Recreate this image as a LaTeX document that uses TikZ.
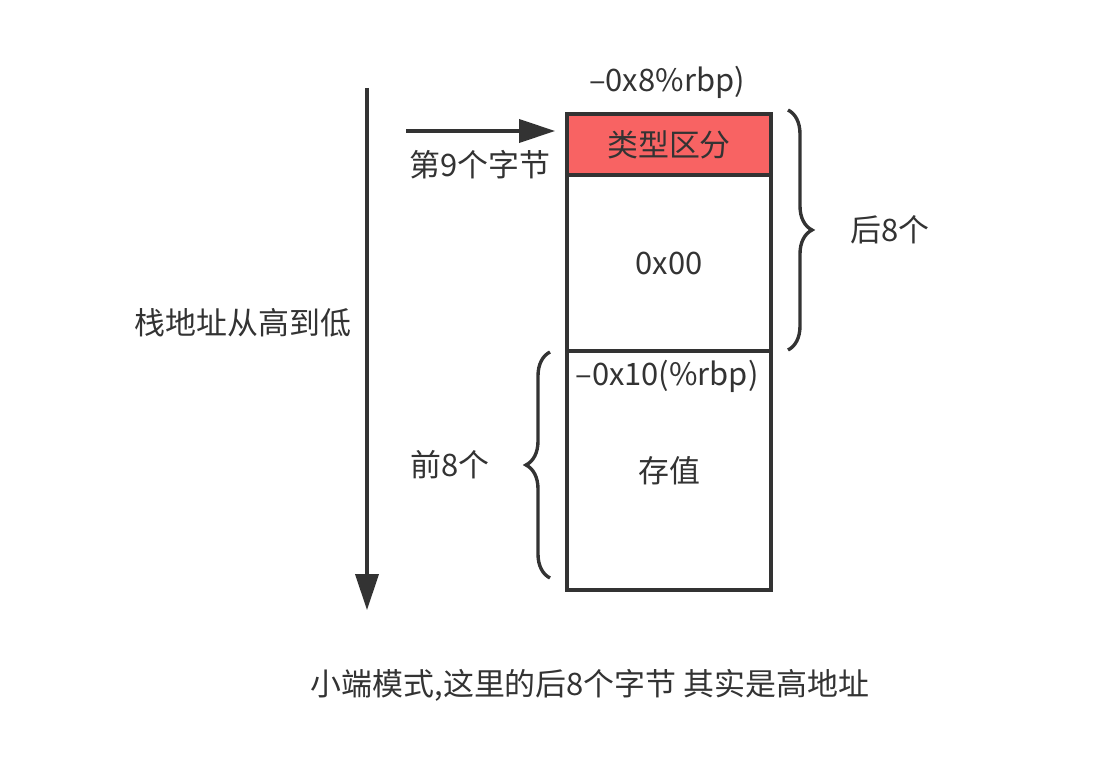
\documentclass[tikz,border=0pt]{standalone}
\usepackage{fontspec}
\setmainfont{Noto Sans CJK SC}
\usepackage{xcolor}
\usepackage{tikz}
\usetikzlibrary{arrows.meta,positioning,calc,decorations.pathreplacing}
\definecolor{inkgray}{RGB}{51,51,51}
\definecolor{typered}{RGB}{248,99,99}

\begin{document}
\begin{tikzpicture}[
  every node/.style={font=\fontsize{22}{26}\selectfont, text=inkgray},
  cell/.style={draw=inkgray, line width=2.6pt, minimum width=5.1cm,
               inner sep=0pt, outer sep=0pt, fill=white},
  arrow/.style={-{Triangle[length=0.9cm, width=0.58cm]}, line width=2.4pt,
                draw=inkgray},
  bracket/.style={decorate, decoration={brace, amplitude=0.6cm},
                  line width=2.4pt, draw=inkgray},
]
\useasboundingbox (0,0) rectangle (27.85,19.1);

%% ── Stack cells ───────────────────────────────────────────────────────────
\node[cell, fill=typered, minimum height=1.525cm] (kind) at (16.725, 15.4875) {类型区分};
\node[cell, minimum height=4.4cm, below=0pt of kind] (zero) {0x00};
\node[cell, minimum height=5.975cm, below=0pt of zero] (value) {存值};

%% ── Offsets ───────────────────────────────────────────────────────────────
\node (off8) at (16.675, 17.05) {–0x8\%rbp)};
\node (off10) at (16.675, 9.7) {–0x10(\%rbp)};

%% ── Address direction ─────────────────────────────────────────────────────
\coordinate (hi) at (9.175, 16.9);
\coordinate (lo) at (9.175, 3.85);
\draw[arrow] (hi) -- (lo);
\node (dir) at (6.075, 11.025) {栈地址从高到低};

%% ── 9th byte pointer ──────────────────────────────────────────────────────
\coordinate (from) at (10.15, 15.825);
\coordinate (to) at ([xshift=-0.3cm]kind.west |- from);
\draw[arrow] (from) -- (to);
\node (ninth) at (12.0, 14.975) {第9个字节};

%% ── Braces ────────────────────────────────────────────────────────────────
\coordinate (rtop) at (19.7, 16.35);
\coordinate (rbot) at (19.7, 10.35);
\draw[bracket] (rtop) -- (rbot);
\node (last8) at (22.25, 13.35) {后8个};

\coordinate (lbot) at (13.75, 4.65);
\coordinate (ltop) at (13.75, 10.3);
\draw[bracket] (lbot) -- (ltop);
\node (first8) at (11.25, 7.475) {前8个};

%% Note
\node (note) at (14.75, 1.975) {小端模式,这里的后8个字节 其实是高地址};

\end{tikzpicture}
\end{document}
